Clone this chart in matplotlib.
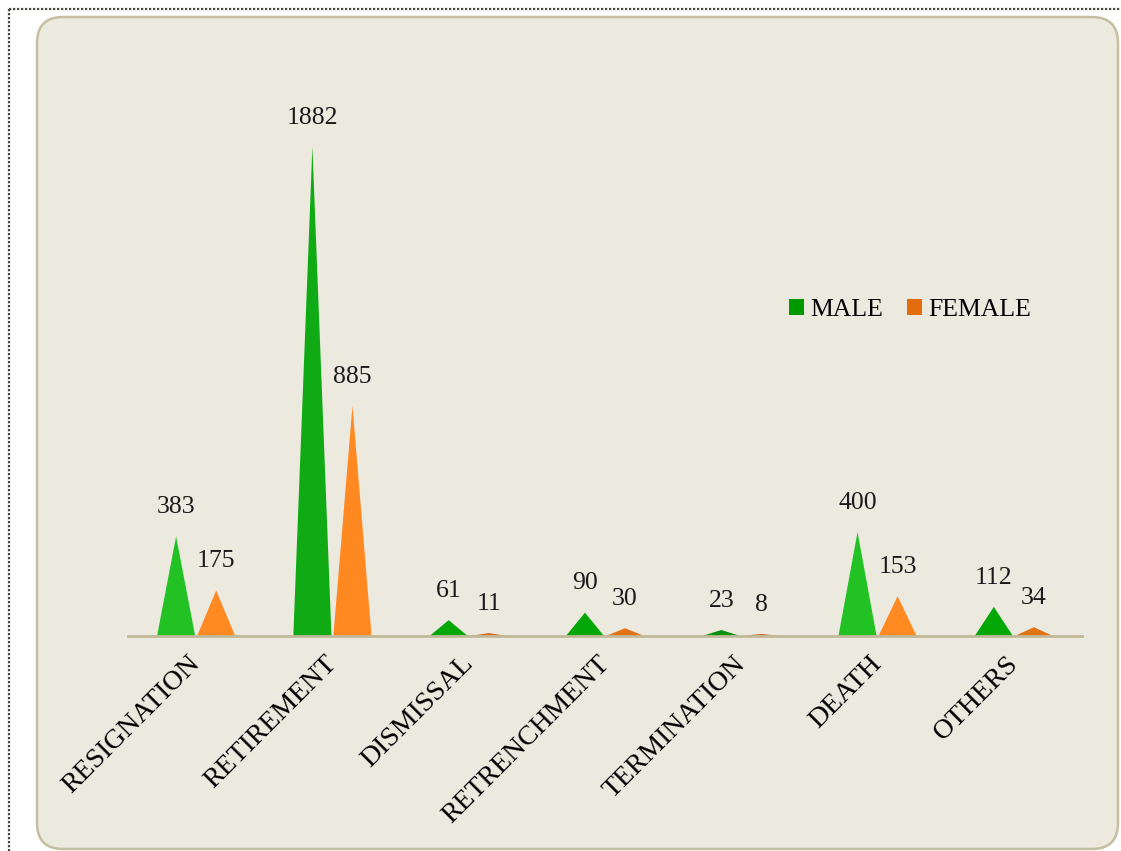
import matplotlib
matplotlib.use("Agg")
import matplotlib.pyplot as plt
import matplotlib.transforms as mtransforms
from matplotlib.patches import FancyBboxPatch, Polygon, Rectangle

# data
categories = ["RESIGNATION", "RETIREMENT", "DISMISSAL", "RETRENCHMENT",
              "TERMINATION", "DEATH", "OTHERS"]
male = [383, 1882, 61, 90, 23, 400, 112]
female = [175, 885, 11, 30, 8, 153, 34]

male_colors = ["#22c124", "#10aa14", "#03a807", "#03a807", "#068f0a", "#22c124", "#03a807"]
female_colors = ["#ff8a22", "#ff8820", "#d8661a", "#e27416", "#d06a1c", "#ff8a22", "#e27416"]

plt.rcParams['font.family'] = ['Liberation Serif', 'DejaVu Serif']

fig = plt.figure(figsize=(11.21, 8.51), dpi=100)
W, H = 1121, 851

# background card
bg = fig.add_axes([0, 0, 1, 1])
bg.set_xlim(0, W)
bg.set_ylim(H, 0)
bg.axis("off")
card = FancyBboxPatch((37, 17), 1081, 832, boxstyle="round,pad=0,rounding_size=26",
                      facecolor="#ece9df", edgecolor="#c6bf9f", linewidth=1.8)
bg.add_patch(card)
# dotted frame on the left and top
bg.plot([9, 9], [9, H], color="#4a463e", linestyle=(0, (1, 0.8)), linewidth=1.6)
bg.plot([9, W], [9, 9], color="#4a463e", linestyle=(0, (1, 0.8)), linewidth=1.6)

# plot area: x from 128 to 1082 px, y baseline at 636 px, 2000 at 116 px
x0, x1 = 128, 1082
ybase, ytop = 636, 116
ax = fig.add_axes([x0 / W, 1 - ybase / H, (x1 - x0) / W, (ybase - ytop) / H])
ax.set_xlim(-0.5, len(categories) - 0.5)
ax.set_ylim(0, 2000)
ax.patch.set_alpha(0)
for s in ["top", "right", "left"]:
    ax.spines[s].set_visible(False)
ax.spines["bottom"].set_color("#c2b99a")
ax.spines["bottom"].set_linewidth(2)
ax.set_yticks([])
ax.tick_params(axis="x", length=0, pad=11)
ax.set_xticks(range(len(categories)))
ax.set_xticklabels(categories, rotation=45, ha="right", va="top",
                   rotation_mode="anchor", fontsize=20)
shift = mtransforms.ScaledTranslation(-6 / 72, 0, fig.dpi_scale_trans)
for lbl in ax.get_xticklabels():
    lbl.set_transform(lbl.get_transform() + shift)

offset = 0.147
half = 0.14
for i in range(len(categories)):
    for val, col, dx in ((male[i], male_colors[i], -offset),
                         (female[i], female_colors[i], offset)):
        cx = i + dx
        tri = Polygon([(cx - half, 0), (cx, val), (cx + half, 0)], closed=True,
                      facecolor=col, edgecolor="none")
        ax.add_patch(tri)
        ax.annotate(str(val), (cx, val), xytext=(0, 21), textcoords="offset points",
                    ha="center", va="center", fontsize=18.5, color="#1a1a1a")

handles = [Rectangle((0, 0), 1, 1, facecolor="#009a00"),
           Rectangle((0, 0), 1, 1, facecolor="#e46c0a")]
fig.legend(handles, ["MALE", "FEMALE"], loc="center", bbox_to_anchor=(910 / W, 1 - 310 / H),
           ncol=2, frameon=False, fontsize=18.5, handlelength=0.6, handleheight=0.6,
           handletextpad=0.25, columnspacing=0.9)

fig.savefig("out.png", dpi=100)
